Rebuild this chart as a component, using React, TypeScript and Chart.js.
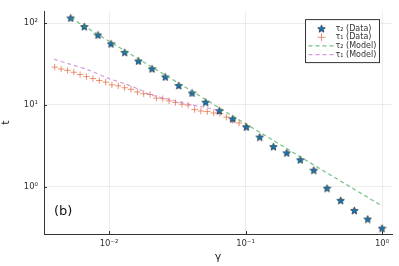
import React, { useEffect, useRef } from "react";
import { Chart, registerables } from "chart.js";
Chart.register(...registerables);

const tau2Gamma = [0.00524, 0.00659, 0.0083, 0.01035, 0.01303, 0.01641, 0.02065, 0.02582, 0.03243, 0.04055, 0.05105, 0.06427, 0.08054, 0.1014, 0.1271, 0.16, 0.2004, 0.2518, 0.3162, 0.3954, 0.4977, 0.6266, 0.7852, 1.0];
const tau2Data = [115.8, 91.0, 71.8, 56.0, 44.0, 34.5, 27.7, 22.0, 17.3, 14.0, 10.8, 8.5, 6.75, 5.37, 4.04, 3.09, 2.59, 2.13, 1.59, 0.957, 0.679, 0.511, 0.401, 0.31];
const tau1Gamma = [0.004, 0.00446, 0.00496, 0.00552, 0.00614, 0.00684, 0.00762, 0.00848, 0.00944, 0.0105, 0.01169, 0.01301, 0.01449, 0.01614, 0.01795, 0.02, 0.02223, 0.02477, 0.02754, 0.03069, 0.0342, 0.03802, 0.04236, 0.0471, 0.05248, 0.05848, 0.06501, 0.07244, 0.08054, 0.08974, 0.1];
const tau1Data = [29.0, 27.5, 26.5, 25.1, 23.5, 22.2, 21.0, 19.9, 19.0, 17.6, 17.1, 16.2, 15.5, 14.4, 13.7, 13.4, 12.1, 11.9, 11.2, 10.7, 10.2, 9.95, 8.76, 8.42, 8.28, 7.96, 7.83, 7.08, 6.46, 6.0, 5.52];
const tau2ModelGamma = [0.00524, 0.0203, 0.1, 0.3162, 1.0];
const tau2Model = [115.8, 29.5, 5.89, 1.84, 0.58];
const tau1ModelGamma = [0.00395, 0.00518, 0.00726, 0.00967, 0.01309, 0.01686, 0.01995, 0.028, 0.0392, 0.0505, 0.0662];
const tau1Model = [36.2, 31.5, 26.4, 21.4, 18.1, 15.3, 13.4, 11.6, 10.1, 9.33, 8.47];

const xTicks = [0.01, 0.1, 1];
const xTickLabels = ["10⁻²", "10⁻¹", "10⁰"];
const yTicks = [1, 10, 100];
const yTickLabels = ["10⁰", "10¹", "10²"];
const seriesLabels = ["τ₂ (Data)", "τ₁ (Data)", "τ₂ (Model)", "τ₁ (Model)"];
const panelLabel = "(b)";
const xTitle = "γ";
const yTitle = "t";

const FONT = "'DejaVu Sans', sans-serif";
const STAR_FILL = "#1477b8";
const PLUS_COLOR = "rgba(227,111,71,0.75)";
const GREEN = "rgba(62,164,78,0.7)";
const PURPLE = "rgba(195,113,210,0.7)";

function makeStar(): HTMLCanvasElement {
  const c = document.createElement("canvas");
  const s = 9;
  c.width = s;
  c.height = s;
  const g = c.getContext("2d")!;
  g.beginPath();
  for (let i = 0; i < 10; i++) {
    const r = i % 2 === 0 ? 4.0 : 1.8;
    const a = -Math.PI / 2 + (i * Math.PI) / 5;
    const px = s / 2 + r * Math.cos(a);
    const py = s / 2 + 0.4 + r * Math.sin(a);
    if (i === 0) g.moveTo(px, py);
    else g.lineTo(px, py);
  }
  g.closePath();
  g.fillStyle = STAR_FILL;
  g.fill();
  g.strokeStyle = "#1a1a1a";
  g.lineWidth = 0.6;
  g.stroke();
  return c;
}

function labelFor(v: number, ticks: number[], labels: string[]) {
  const i = ticks.findIndex((t) => Math.abs(t - v) / t < 1e-6);
  return i >= 0 ? labels[i] : "";
}

export default function App() {
  const ref = useRef<HTMLCanvasElement | null>(null);
  useEffect(() => {
    document.body.style.margin = "0";
    const star = makeStar();
    const decor = {
      id: "decor",
      afterDraw(chart: any) {
        const ctx = chart.ctx as CanvasRenderingContext2D;
        const ca = chart.chartArea;
        const xs = chart.scales.x;
        const ys = chart.scales.y;
        ctx.save();
        ctx.strokeStyle = "#333";
        ctx.lineWidth = 1;
        xTicks.forEach((v) => {
          const px = Math.round(xs.getPixelForValue(v)) + 0.5;
          ctx.beginPath();
          ctx.moveTo(px, ca.bottom);
          ctx.lineTo(px, ca.bottom - 3);
          ctx.stroke();
        });
        yTicks.forEach((v) => {
          const py = Math.round(ys.getPixelForValue(v)) + 0.5;
          ctx.beginPath();
          ctx.moveTo(ca.left, py);
          ctx.lineTo(ca.left + 3, py);
          ctx.stroke();
        });
        ctx.fillStyle = "#111";
        ctx.font = `13px ${FONT}`;
        ctx.textBaseline = "middle";
        ctx.textAlign = "left";
        ctx.fillText(panelLabel, ca.left + 10, ca.bottom - 22);
        const x0 = ca.right - 86.5;
        const y0 = ca.top + 8.5;
        const w = 74;
        const h = 43;
        ctx.fillStyle = "#fff";
        ctx.fillRect(x0, y0, w, h);
        ctx.strokeStyle = "#333";
        ctx.lineWidth = 1;
        ctx.strokeRect(x0, y0, w, h);
        ctx.font = `8px ${FONT}`;
        const rows = [9, 17.7, 26.3, 35];
        rows.forEach((ry, i) => {
          const cy = y0 + ry;
          const cx = x0 + 16;
          if (i === 0) {
            ctx.drawImage(star, cx - 4.5, cy - 4.5);
          } else if (i === 1) {
            ctx.strokeStyle = PLUS_COLOR;
            ctx.lineWidth = 1;
            ctx.beginPath();
            ctx.moveTo(cx - 4, cy);
            ctx.lineTo(cx + 4, cy);
            ctx.moveTo(cx, cy - 4);
            ctx.lineTo(cx, cy + 4);
            ctx.stroke();
          } else {
            ctx.strokeStyle = i === 2 ? GREEN : PURPLE;
            ctx.lineWidth = 1.2;
            ctx.setLineDash([4, 3]);
            ctx.beginPath();
            ctx.moveTo(x0 + 3, cy);
            ctx.lineTo(x0 + 28, cy);
            ctx.stroke();
            ctx.setLineDash([]);
          }
          ctx.fillStyle = "#333";
          ctx.fillText(seriesLabels[i], x0 + 30, cy);
        });
        ctx.restore();
      },
    };
    const chart = new Chart(ref.current!, {
      type: "scatter",
      data: {
        datasets: [
          {
            label: seriesLabels[0],
            data: tau2Gamma.map((g, i) => ({ x: g, y: tau2Data[i] })),
            pointStyle: star as any,
            pointRadius: 4,
            showLine: false,
            order: 2,
          },
          {
            label: seriesLabels[1],
            data: tau1Gamma.map((g, i) => ({ x: g, y: tau1Data[i] })),
            pointStyle: "cross",
            pointRadius: 3.2,
            borderColor: PLUS_COLOR,
            backgroundColor: PLUS_COLOR,
            pointBorderWidth: 1,
            showLine: false,
            order: 3,
          },
          {
            label: seriesLabels[2],
            data: tau2ModelGamma.map((g, i) => ({ x: g, y: tau2Model[i] })),
            showLine: true,
            pointRadius: 0,
            borderColor: GREEN,
            borderWidth: 1.2,
            borderDash: [4, 3],
            order: 0,
          },
          {
            label: seriesLabels[3],
            data: tau1ModelGamma.map((g, i) => ({ x: g, y: tau1Model[i] })),
            showLine: true,
            pointRadius: 0,
            borderColor: PURPLE,
            borderWidth: 1.2,
            borderDash: [4, 3],
            tension: 0.3,
            order: 1,
          },
        ],
      },
      options: {
        responsive: false,
        animation: false,
        layout: { padding: { left: 0, right: 7, top: 7, bottom: 0 } },
        plugins: { legend: { display: false }, tooltip: { enabled: false } },
        scales: {
          x: {
            type: "logarithmic",
            min: 0.00334,
            max: 1.183,
            afterBuildTicks: (s: any) => {
              s.ticks = xTicks.map((v) => ({ value: v }));
            },
            afterFit: (s: any) => {
              s.height = 32;
            },
            ticks: {
              callback: (v: any) => labelFor(Number(v), xTicks, xTickLabels),
              font: { family: FONT, size: 8.5 },
              color: "#333",
              padding: 5,
              maxRotation: 0,
              autoSkip: false,
            },
            grid: { color: "rgba(0,0,0,0.07)", drawTicks: false },
            border: { color: "#333", width: 1 },
            title: {
              display: true,
              text: xTitle,
              font: { family: FONT, size: 11 },
              color: "#222",
              padding: { top: 0, bottom: 2 },
            },
          },
          y: {
            type: "logarithmic",
            min: 0.263,
            max: 140.6,
            afterBuildTicks: (s: any) => {
              s.ticks = yTicks.map((v) => ({ value: v }));
            },
            afterFit: (s: any) => {
              s.width = 44;
            },
            ticks: {
              callback: (v: any) => labelFor(Number(v), yTicks, yTickLabels),
              font: { family: FONT, size: 8.5 },
              color: "#333",
              padding: 6,
              autoSkip: false,
            },
            grid: { color: "rgba(0,0,0,0.07)", drawTicks: false },
            border: { color: "#333", width: 1 },
            title: {
              display: true,
              text: yTitle,
              font: { family: FONT, size: 11 },
              color: "#222",
              padding: { top: 0, bottom: 6 },
            },
          },
        },
      },
      plugins: [decor],
    } as any);
    return () => chart.destroy();
  }, []);
  return (
    <div style={{ width: 399, height: 266 }}>
      <canvas ref={ref} width={399} height={266} style={{ display: "block" }} />
    </div>
  );
}
